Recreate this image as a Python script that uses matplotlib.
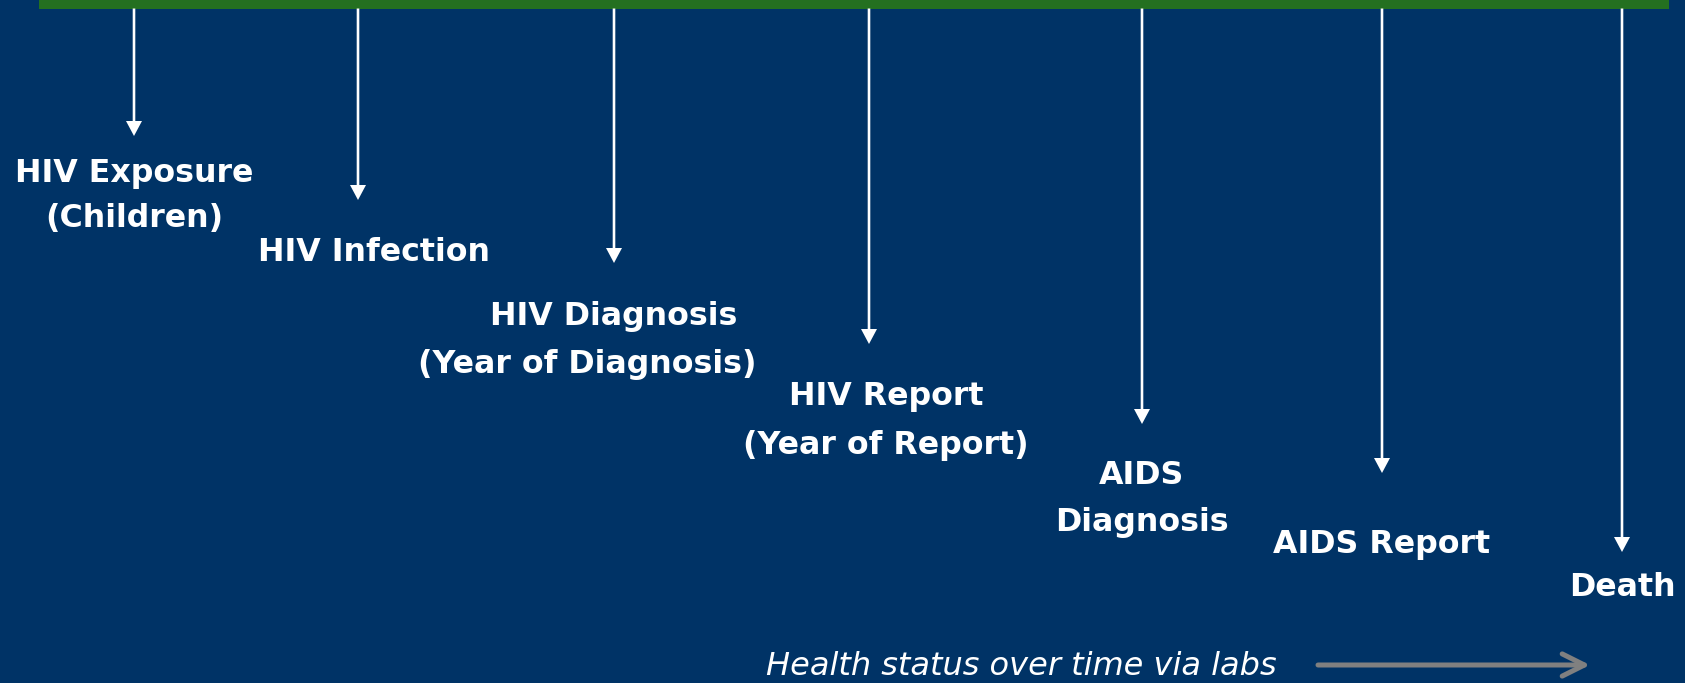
import matplotlib
matplotlib.use("Agg")
import matplotlib.pyplot as plt

# ---- data: timeline events (in order) ----
event_lines = [
    ["HIV Exposure", "(Children)"],
    ["HIV Infection"],
    ["HIV Diagnosis", "(Year of Diagnosis)"],
    ["HIV Report", "(Year of Report)"],
    ["AIDS", "Diagnosis"],
    ["AIDS Report"],
    ["Death"],
]
footer_text = "Health status over time via labs"

# ---- layout (pixels) ----
W, H = 1685, 683
arrow_x = [134, 358, 614, 869, 1142, 1382, 1622]
arrow_tip = [136, 200, 263, 344, 424, 473, 552]
first_baseline = [182, 261, 325, 405, 484, 553, 596]
line_gap = [45, 0, 48, 49, 47, 0, 0]
line_dx = [[0, 0], [16], [0, -27], [17, 17], [0, 0], [0], [0]]

BG = "#003366"
GREEN = "#247020"

fig = plt.figure(figsize=(W / 100, H / 100), dpi=100, facecolor=BG)
ax = fig.add_axes([0, 0, 1, 1])
ax.set_facecolor(BG)
ax.set_xlim(0, W)
ax.set_ylim(H, 0)
ax.axis("off")

# green bar on top
ax.add_patch(plt.Rectangle((39, 0), 1630, 8.5, color=GREEN, lw=0))

# event arrows and labels
for i, lines in enumerate(event_lines):
    x = arrow_x[i]
    ax.arrow(x, 8.5, 0, arrow_tip[i] - 8.5, width=2.6, head_width=16,
             head_length=15, length_includes_head=True, color="white", lw=0)
    for j, txt in enumerate(lines):
        ax.text(x + line_dx[i][j], first_baseline[i] + j * line_gap[i], txt,
                ha="center", va="baseline", color="white",
                fontsize=22.8, fontweight="bold", family="DejaVu Sans")

# footer
ax.text(1021, 675, footer_text, ha="center", va="baseline", color="white",
        fontsize=23, fontstyle="italic", family="DejaVu Sans")
ax.annotate("", xy=(1590, 665), xytext=(1318, 665),
            arrowprops=dict(arrowstyle="->,head_length=1.6,head_width=0.8",
                            color="#808080", lw=3.6, shrinkA=0, shrinkB=0))

fig.savefig("out.png", dpi=100, facecolor=BG)
